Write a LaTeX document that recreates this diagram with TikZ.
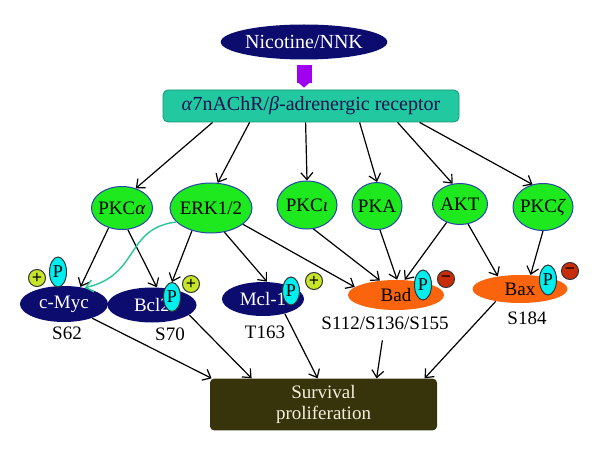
\documentclass[tikz,border=0pt]{standalone}
\usepackage{fontspec}
\setmainfont{Liberation Serif}
\usetikzlibrary{arrows.meta,calc,shapes.geometric}
\definecolor{navyfill}{RGB}{12,12,110}
\definecolor{navytext}{RGB}{20,20,80}
\definecolor{tealfill}{RGB}{34,200,160}
\definecolor{tealedge}{RGB}{20,150,120}
\definecolor{kingreen}{RGB}{30,232,30}
\definecolor{kinedge}{RGB}{40,70,170}
\definecolor{badorange}{RGB}{250,100,12}
\definecolor{phcyan}{RGB}{0,238,238}
\definecolor{plusfill}{RGB}{200,230,40}
\definecolor{minusfill}{RGB}{200,45,10}
\definecolor{survfill}{RGB}{55,52,12}
\definecolor{survtext}{RGB}{242,240,220}
\definecolor{purplearrow}{RGB}{160,0,240}
\definecolor{curveteal}{RGB}{40,200,150}

\begin{document}
\begin{tikzpicture}[x=0.5pt,y=-0.5pt,>={Straight Barb[length=3.5pt,width=6pt]},
  kinase/.style={ellipse,draw=kinedge,line width=0.5pt,fill=kingreen,inner xsep=-3pt,inner ysep=0pt,font=\fontsize{9.5}{11}\selectfont},
  target/.style={ellipse,inner sep=0pt,font=\fontsize{9.5}{11}\selectfont},
  phos/.style={ellipse,draw=black!80,line width=0.5pt,fill=phcyan,minimum width=8.5pt,minimum height=15pt,inner sep=0pt,font=\fontsize{9}{10}\selectfont},
  sign/.style={circle,draw=black!80,line width=0.5pt,minimum size=8.5pt,inner sep=0pt,font=\fontsize{9}{9}\selectfont\bfseries},
  site/.style={font=\fontsize{9.5}{11}\selectfont},
  link/.style={->,line width=0.6pt}]
\useasboundingbox[fill=white] (0,0) rectangle (600,449);

% Ligand and receptor
\node[ellipse,fill=navyfill,text=white,minimum width=76pt,minimum height=17.5pt,inner sep=0pt] (nic) at (304,42) {Nicotine/NNK};
\node[rectangle,rounded corners=2.5pt,draw=tealedge,fill=tealfill,text=navytext,minimum width=148pt,minimum height=16pt] (rec) at (311,106) {\textit{α}7nAChR/\textit{β}-adrenergic receptor};
\draw[line width=7.5pt,draw=purplearrow,-{Triangle[width=5.5pt,length=2.5pt]},shorten <=2.5pt,shorten >=1pt] (nic.south) -- (nic.south |- rec.north);

% Kinases
\node[kinase,minimum width=30.5pt,minimum height=21.5pt] (pkca) at (122,208) {PKC\textit{α}};
\node[kinase,minimum width=41pt,minimum height=25pt] (erk) at (211,208) {ERK1/2};
\node[kinase,minimum width=30pt,minimum height=24pt] (pkci) at (307,205) {PKC\textit{ι}};
\node[kinase,minimum width=25pt,minimum height=23.5pt] (pka) at (377,206) {PKA};
\node[kinase,minimum width=27.5pt,minimum height=20.5pt] (akt) at (460,204) {AKT};
\node[kinase,minimum width=30pt,minimum height=23.5pt] (pkcz) at (543,207) {PKC\textit{ζ}};

\draw[link] ($(rec.south west)+(50,0)$) -- (pkca.55);
\draw[link] ($(rec.south west)+(87,0)$) -- (erk.75);
\draw[link] ($(rec.south west)+(143,0)$) -- (pkci.north);
\draw[link] ($(rec.south west)+(197,0)$) -- (pka.north);
\draw[link] ($(rec.south west)+(235,0)$) -- (akt.110);
\draw[link] ($(rec.south west)+(257,0)$) -- (pkcz.115);

% Targets
\node[target,fill=navyfill,text=white,minimum width=44pt,minimum height=18pt] (myc) at (64,304) {c-Myc};
\node[target,fill=navyfill,text=white,minimum width=44.5pt,minimum height=17.5pt] (bcl) at (152,305) {Bcl2\hspace{11pt}};
\node[target,fill=navyfill,text=white,minimum width=41pt,minimum height=17pt] (mcl) at (263,299) {Mcl-1\hspace{5pt}};
\node[target,fill=badorange,text=black,minimum width=48pt,minimum height=15pt] (bad) at (396,295) {Bad\hspace{5pt}};
\node[target,fill=badorange,text=black,minimum width=47.5pt,minimum height=14pt] (bax) at (520,289) {Bax};

% Phosphorylation and its effect
\node[phos] (pmyc) at (58,272) {P};
\node[phos,minimum height=14.5pt] (pbcl) at (172,297) {P};
\node[phos,minimum height=14pt] (pmcl) at (291,291) {P};
\node[phos] (pbad) at (423,285) {P};
\node[phos] (pbax) at (548,280) {P};
\node[sign,fill=plusfill] (amyc) at (37,278) {+};
\node[sign,fill=plusfill] (abcl) at (191,284) {+};
\node[sign,fill=plusfill] (amcl) at (314,281) {+};
\node[sign,fill=minusfill] (ibad) at (446,279) {−};
\node[sign,fill=minusfill] (ibax) at (570,271) {−};

% Sites
\node[site] (s62) at (67,333) {S62};
\node[site] (s70) at (170,334) {S70};
\node[site] (t163) at (265,332) {T163};
\node[site] (s112) at (385,323) {S112/S136/S155};
\node[site] (s184) at (527,318) {S184};

\draw[link] (pkca.236) -- (myc.46);
\draw[link] (pkca.-75) -- (bcl.75);
\draw[link] (erk.230) -- (pbcl.north);
\draw[link] (erk.-61) -- (mcl.77);
\draw[link] (erk.-27) -- (bad.169);
\draw[link] (pkci.-75) -- (bad.138);
\draw[link] (pka.-83) -- (bad.86);
\draw[link] (akt.234) -- (bad.60);
\draw[link] (akt.-68) -- (bax.150);
\draw[link] (pkcz.270) -- (bax.53);
\draw[->,draw=curveteal,line width=0.7pt] (erk.202) .. controls (125,228) and (140,275) .. (myc.38);

% Outcome
\node[rectangle,rounded corners=2pt,fill=survfill,text=survtext,minimum width=113.5pt,minimum height=23.5pt,align=center,font=\fontsize{9.5}{10.5}\selectfont] (surv) at (323.5,404.5) {Survival\\proliferation};

\draw[link] (myc) -- ($(surv.north west)+(2,0)$);
\draw[link] (bcl.-15) -- ($(surv.north west)+(42,0)$);
\draw[link] (mcl.-34) -- ($(surv.north west)+(108,0)$);
\draw[link,shorten <=2pt] (s112) -- ($(surv.north west)+(167,0)$);
\draw[link] (bax.207) -- ($(surv.north west)+(215,0)$);
\end{tikzpicture}
\end{document}
